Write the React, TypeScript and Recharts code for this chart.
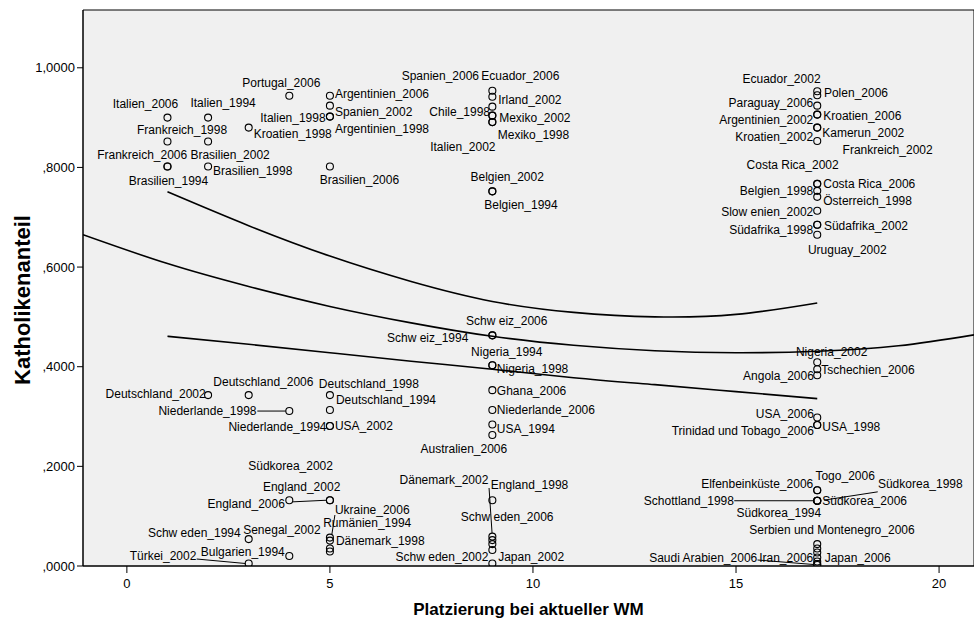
import React from "react";
import {
  ComposedChart,
  Scatter,
  Line,
  XAxis,
  YAxis,
  ReferenceArea,
  Label,
} from "recharts";

const FONT = '"Liberation Sans", Arial, Helvetica, sans-serif';

// team labels, WM placement and share of catholics
const teams = [
  "Italien_2006", "Frankreich_1998", "Brasilien_2002", "Brasilien_1994",
  "Italien_1994", "Frankreich_2006", "Brasilien_1998", "Deutschland_2002",
  "Kroatien_1998", "Deutschland_2006", "Schw eden_1994", "Türkei_2002",
  "Portugal_2006", "Niederlande_1998", "Südkorea_2002", "Bulgarien_1994",
  "Argentinien_2006", "Spanien_2002", "Italien_1998", "Argentinien_1998",
  "Brasilien_2006", "Deutschland_1998", "Deutschland_1994", "Niederlande_1994",
  "USA_2002", "England_2002", "England_2006", "Ukraine_2006",
  "Rumänien_1994", "Dänemark_1998", "Senegal_2002",
  "Ecuador_2006", "Spanien_2006", "Irland_2002", "Chile_1998",
  "Italien_2002", "Mexiko_2002", "Mexiko_1998", "Belgien_2002",
  "Belgien_1994", "Schw eiz_2006", "Schw eiz_1994", "Nigeria_1994",
  "Nigeria_1998", "Ghana_2006", "Niederlande_2006", "USA_1994",
  "Australien_2006", "England_1998", "Dänemark_2002", "Schw eden_2006",
  "", "Schw eden_2002", "Japan_2002",
  "Ecuador_2002", "Polen_2006", "Paraguay_2006", "Argentinien_2002",
  "Kroatien_2006", "Kamerun_2002", "Kroatien_2002", "Frankreich_2002",
  "Costa Rica_2002", "Costa Rica_2006", "Belgien_1998", "Österreich_1998",
  "Slow enien_2002", "Südafrika_1998", "Südafrika_2002", "Uruguay_2002",
  "Nigeria_2002", "Tschechien_2006", "Angola_2006", "USA_2006",
  "USA_1998", "Trinidad und Tobago_2006", "Elfenbeinküste_2006", "Togo_2006",
  "Schottland_1998", "Südkorea_2006", "Südkorea_1998", "Südkorea_1994",
  "Serbien und Montenegro_2006", "", "", "",
  "Iran_2006", "Japan_2006", "Saudi Arabien_2006",
];

const placement = [
  1, 1, 1, 1,
  2, 2, 2, 2,
  3, 3, 3, 3,
  4, 4, 4, 4,
  5, 5, 5, 5,
  5, 5, 5, 5,
  5, 5, 5, 5,
  5, 5, 5,
  9, 9, 9, 9,
  9, 9, 9, 9,
  9, 9, 9, 9,
  9, 9, 9, 9,
  9, 9, 9, 9,
  9, 9, 9,
  17, 17, 17, 17,
  17, 17, 17, 17,
  17, 17, 17, 17,
  17, 17, 17, 17,
  17, 17, 17, 17,
  17, 17, 17, 17,
  17, 17, 17, 17,
  17, 17, 17, 17,
  17, 17, 17,
];

const catholicShare = [
  0.900, 0.852, 0.802, 0.802,
  0.900, 0.852, 0.802, 0.343,
  0.880, 0.343, 0.054, 0.005,
  0.944, 0.311, 0.132, 0.020,
  0.944, 0.924, 0.902, 0.902,
  0.802, 0.343, 0.313, 0.281,
  0.281, 0.132, 0.132, 0.057,
  0.051, 0.035, 0.029,
  0.954, 0.942, 0.922, 0.904,
  0.904, 0.891, 0.891, 0.752,
  0.752, 0.463, 0.463, 0.403,
  0.403, 0.353, 0.313, 0.284,
  0.263, 0.132, 0.059, 0.052,
  0.044, 0.032, 0.005,
  0.953, 0.945, 0.924, 0.906,
  0.906, 0.880, 0.880, 0.853,
  0.767, 0.767, 0.753, 0.741,
  0.713, 0.685, 0.685, 0.665,
  0.409, 0.395, 0.383, 0.298,
  0.283, 0.283, 0.152, 0.152,
  0.131, 0.131, 0.131, 0.131,
  0.044, 0.035, 0.027, 0.017,
  0.009, 0.004, 0.002,
];

// quadratic fit across the whole axis
const fitX = [-1.08, 1, 3, 5, 7, 9, 11, 13, 15, 17, 19, 20.86];
const fitMean = [0.665, 0.607, 0.561, 0.521, 0.488, 0.461, 0.443, 0.432, 0.428, 0.431, 0.442, 0.464];

// band curves over the data range
const bandX = [1, 3, 5, 7, 9, 11, 13, 15, 17];
const bandUpper = [0.751, 0.683, 0.622, 0.571, 0.531, 0.509, 0.5, 0.505, 0.528];
const bandLower = [0.461, 0.445, 0.428, 0.411, 0.395, 0.378, 0.364, 0.35, 0.336];

const xTicks = [0, 5, 10, 15, 20];
const yTicks = [0, 0.2, 0.4, 0.6, 0.8, 1.0];
const yTickLabels = [",0000", ",2000", ",4000", ",6000", ",8000", "1,0000"];

const points = teams.map((name, i) => ({ name, x: placement[i], y: catholicShare[i] }));
const meanLine = fitX.map((x, i) => ({ x, y: fitMean[i] }));
const upperLine = bandX.map((x, i) => ({ x, y: bandUpper[i] }));
const lowerLine = bandX.map((x, i) => ({ x, y: bandLower[i] }));

// label placement next to the marker: anchor, dx, dy (text centre), optional leader line
type Lay = [string, number, number, number?, number?, number?, number?];
const labelLayout: Record<string, Lay> = {
  "Italien_2006": ["m", -22, -13.6],
  "Italien_1994": ["m", 15, -15.2],
  "Frankreich_1998": ["m", 14.6, -11.6],
  "Frankreich_2006": ["m", -65.9, 13.1],
  "Brasilien_2002": ["m", 62.6, -11.8],
  "Brasilien_1994": ["m", 1, 14.2],
  "Brasilien_1998": ["s", 4.9, 4.2],
  "Portugal_2006": ["m", -8, -13.2],
  "Kroatien_1998": ["s", 5, 5.8],
  "Italien_1998": ["e", -4.3, 0.8],
  "Argentinien_2006": ["s", 5, -1.6],
  "Spanien_2002": ["s", 5, 5.8],
  "Argentinien_1998": ["s", 5, 11.8],
  "Brasilien_2006": ["m", 29.5, 13.2],
  "Spanien_2006": ["e", -13.3, -20.9],
  "Ecuador_2006": ["m", 28, -15],
  "Irland_2002": ["s", 5.8, -6.6],
  "Chile_1998": ["e", -2.3, -4.2],
  "Mexiko_2002": ["s", 6.8, -4.1],
  "Mexiko_1998": ["s", 5.4, 12.6],
  "Italien_2002": ["m", -29.5, 31.1],
  "Belgien_2002": ["m", 14.8, -14.1],
  "Belgien_1994": ["m", 28.6, 13.5],
  "Ecuador_2002": ["m", -35.7, -12.2],
  "Polen_2006": ["s", 6.7, -2.7],
  "Paraguay_2006": ["e", -4, -3.2],
  "Argentinien_2002": ["e", -4, 5.4],
  "Kroatien_2006": ["s", 6, 1.1],
  "Kamerun_2002": ["s", 5, 4.8],
  "Kroatien_2002": ["e", -4, 9.1],
  "Frankreich_2002": ["m", 70.4, 8.6],
  "Costa Rica_2002": ["m", -24.6, -19],
  "Costa Rica_2006": ["s", 6, 0],
  "Belgien_1998": ["e", -4, 0.4],
  "Österreich_1998": ["s", 6, 3.8],
  "Slow enien_2002": ["e", -4, 1.5],
  "Südafrika_1998": ["e", -4, 5.1],
  "Südafrika_2002": ["s", 6.7, 1.5],
  "Uruguay_2002": ["m", 30, 14.8],
  "Deutschland_2002": ["e", -2.4, -1.5],
  "Deutschland_2006": ["m", 14.7, -13.1],
  "Niederlande_1998": ["e", -32.8, 0, -32, 0, -3.5, 0],
  "Deutschland_1998": ["m", 39, -11.5],
  "Deutschland_1994": ["s", 6, -9.8],
  "Niederlande_1994": ["e", -3.4, 0.9],
  "USA_2002": ["s", 5, 0],
  "Schw eiz_2006": ["m", 14.4, -14.3],
  "Schw eiz_1994": ["e", -24, 2.7],
  "Nigeria_1994": ["m", 14.4, -13.2],
  "Nigeria_1998": ["s", 4.5, 3.4],
  "Ghana_2006": ["s", 4.5, 0.8],
  "Niederlande_2006": ["s", 4.5, 0],
  "USA_1994": ["s", 4.5, 4],
  "Australien_2006": ["m", -28.5, 13.5],
  "Nigeria_2002": ["m", 14.4, -10.2],
  "Tschechien_2006": ["s", 4, 1],
  "Angola_2006": ["e", -3.4, 1],
  "USA_2006": ["e", -3.4, -3.3],
  "USA_1998": ["s", 5, 1.9],
  "Trinidad und Tobago_2006": ["e", -3.4, 5.9],
  "Elfenbeinküste_2006": ["e", -4, -6.9],
  "Togo_2006": ["m", 27.9, -14.5],
  "Schottland_1998": ["e", -83.3, 0, -83, 0, -3.5, 0],
  "Südkorea_2006": ["s", 5, 0.4],
  "Südkorea_1998": ["s", 60.7, -17.3, 60.5, -8.9, 6.7, -0.6],
  "Südkorea_1994": ["m", -38.4, 12.1],
  "Serbien und Montenegro_2006": ["m", 14.7, -14],
  "Saudi Arabien_2006": ["e", -60, -7.7, -59.7, -5, -3.6, -0.5],
  "Iran_2006": ["e", -4, -4.2],
  "Japan_2006": ["s", 7.4, -6.7],
  "England_1998": ["s", -1.5, -15.1],
  "Dänemark_2002": ["e", -4, -56.6, -3.3, -48.6, -0.3, -3.6],
  "Schw eden_2006": ["m", 14.8, -22.8],
  "Schw eden_2002": ["e", -4, 6.7],
  "Japan_2002": ["s", 5.8, -6.8],
  "Südkorea_2002": ["m", 1.3, -34.1],
  "England_2002": ["m", -28.3, -13.4],
  "England_2006": ["e", -45, 3.2, -37, 1.6, -3.5, 0],
  "Ukraine_2006": ["s", 5, -28.3, 5, -22.6, 2, -3.5],
  "Rumänien_1994": ["s", -6.7, -17.9],
  "Dänemark_1998": ["s", 6, -7.8],
  "Senegal_2002": ["m", -48, -22.2],
  "Schw eden_1994": ["e", -8, -5.8],
  "Bulgarien_1994": ["e", -4.5, -4.3],
  "Türkei_2002": ["e", -52.3, -7.5, -52, -4.5, -3.2, 0],
};

const anchors: Record<string, "start" | "middle" | "end"> = { s: "start", m: "middle", e: "end" };

const PointMark = (props: any) => {
  const { cx, cy, payload } = props;
  const lay = labelLayout[payload.name];
  return (
    <g>
      <circle cx={cx} cy={cy} r={3.5} fill="none" stroke="#000" strokeWidth={1.1} />
      {lay && lay[3] !== undefined && (
        <line
          x1={cx + (lay[3] as number)}
          y1={cy + (lay[4] as number)}
          x2={cx + (lay[5] as number)}
          y2={cy + (lay[6] as number)}
          stroke="#000"
          strokeWidth={1}
        />
      )}
      {lay && (
        <text
          x={cx + lay[1]}
          y={cy + lay[2] + 4.2}
          textAnchor={anchors[lay[0]]}
          fontSize={12}
          fontFamily={FONT}
          fill="#000"
        >
          {payload.name}
        </text>
      )}
    </g>
  );
};

const YTitle = (props: any) => {
  const vb = props.viewBox || { x: 0, y: 10, width: 83, height: 556 };
  const x = vb.x + 22;
  const y = vb.y + vb.height / 2 + 12;
  return (
    <text
      x={x}
      y={y}
      transform={`rotate(-90 ${x} ${y})`}
      textAnchor="middle"
      dominantBaseline="central"
      fontSize={22}
      fontWeight="bold"
      fontFamily={FONT}
      fill="#000"
    >
      Katholikenanteil
    </text>
  );
};

export default function App() {
  return (
    <div style={{ position: "absolute", left: 0, top: 0, background: "#fff" }}>
      <ComposedChart width={974} height={619} margin={{ top: 10, right: 0, bottom: 0, left: 0 }}>
        <XAxis
          type="number"
          dataKey="x"
          domain={[-1.08, 20.86]}
          allowDataOverflow
          ticks={xTicks}
          height={53}
          tickSize={7}
          tickMargin={6}
          axisLine={{ stroke: "#000" }}
          tickLine={{ stroke: "#000" }}
          tick={{ fontSize: 13, fill: "#000", fontFamily: FONT }}
        >
          <Label
            value="Platzierung bei aktueller WM"
            position="insideBottom"
            offset={4}
            style={{ fontSize: 17, fontWeight: "bold", fontFamily: FONT, fill: "#000" }}
          />
        </XAxis>
        <YAxis
          type="number"
          dataKey="y"
          domain={[0, 1.116]}
          allowDataOverflow
          ticks={yTicks}
          width={83}
          tickSize={6}
          tickMargin={2}
          tickFormatter={(v: number, i: number) => yTickLabels[i]}
          axisLine={{ stroke: "#000" }}
          tickLine={{ stroke: "#000" }}
          tick={{ fontSize: 13, fill: "#000", fontFamily: FONT }}
        >
          <Label content={<YTitle />} />
        </YAxis>
        <ReferenceArea
          x1={-1.08}
          x2={20.86}
          y1={0}
          y2={1.116}
          fill="#F0F0F0"
          fillOpacity={1}
          stroke="#000"
          strokeWidth={1}
          ifOverflow="visible"
        />
        <Scatter data={points} dataKey="y" shape={<PointMark />} isAnimationActive={false} />
        <Line data={meanLine} dataKey="y" type="natural" stroke="#000" strokeWidth={1.6} dot={false} activeDot={false} isAnimationActive={false} />
        <Line data={upperLine} dataKey="y" type="natural" stroke="#000" strokeWidth={1.6} dot={false} activeDot={false} isAnimationActive={false} />
        <Line data={lowerLine} dataKey="y" type="natural" stroke="#000" strokeWidth={1.6} dot={false} activeDot={false} isAnimationActive={false} />
      </ComposedChart>
    </div>
  );
}
